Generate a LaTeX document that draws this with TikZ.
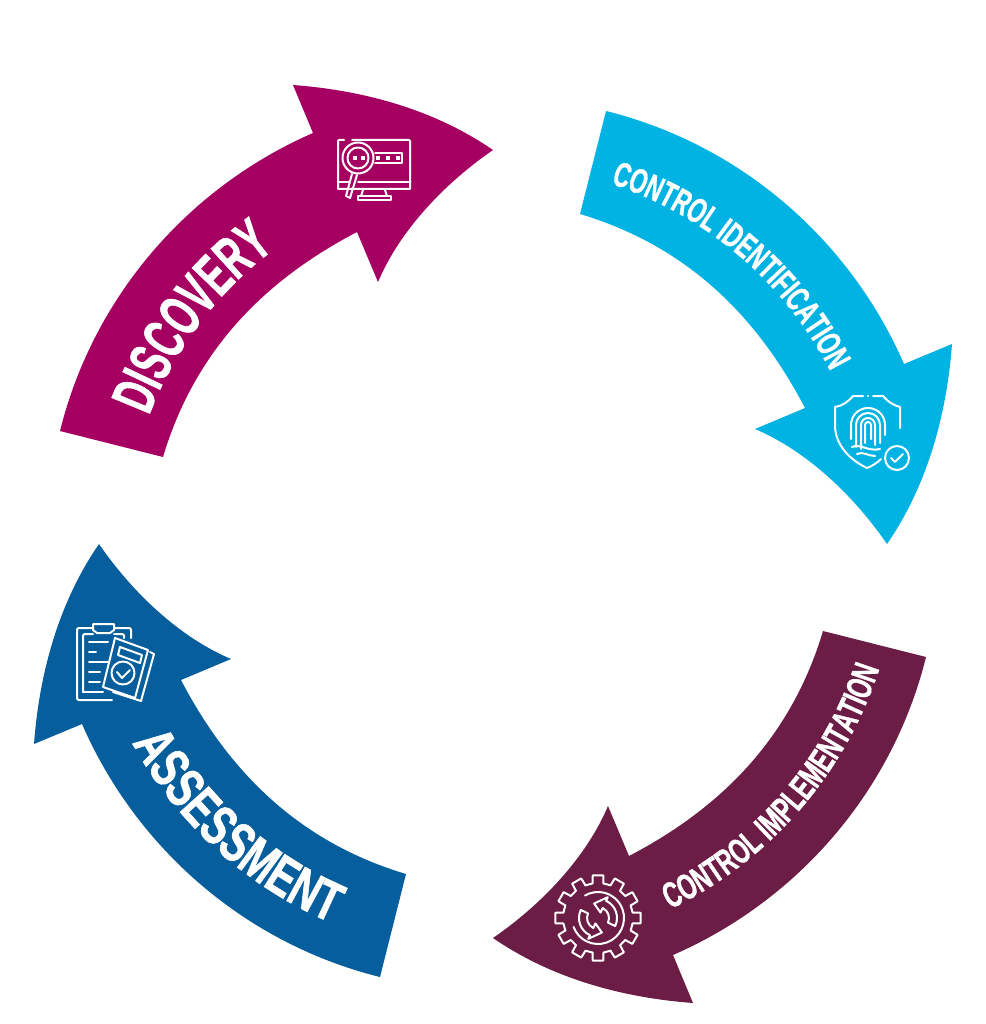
\documentclass[tikz,border=0pt]{standalone}
\usepackage{fontspec}
\usetikzlibrary{decorations.text}
\newfontfamily\widebandfont[FakeStretch=0.71,FakeBold=1]{Liberation Sans}
\newfontfamily\bandfont[FakeStretch=0.64,FakeBold=1]{Liberation Sans}
\newfontfamily\slimbandfont[FakeStretch=0.6,FakeBold=1]{Liberation Sans}
\definecolor{discovery}{RGB}{165,0,97}
\definecolor{identification}{RGB}{0,179,227}
\definecolor{implementation}{RGB}{107,29,69}
\definecolor{assessment}{RGB}{7,94,156}
\tikzset{iconline/.style={white,line width=2pt,line join=round,line cap=round}}
\newcommand{\bandlabel}[4]{\path[decorate,decoration={text along path,text align=center,text color=white,text={|#2\bfseries\fontsize{#3}{#3}\selectfont|#1}}] #4;}

\begin{document}
\begin{tikzpicture}[x=1pt,y=-1pt]
\useasboundingbox (0,0) rectangle (985,1024);
\coordinate (hub) at (493,544);
% the four arrows are one shape turned round the hub
\foreach \turn/\shade in {0/discovery,-90/identification,-180/implementation,-270/assessment}
  \fill[\shade,rotate around={\turn:(hub)}] (60,431) .. controls (93,298) and (187,188) .. (313,133)
    -- (293,85) .. controls (360,90) and (432,108) .. (493,150)
    .. controls (445,183) and (400,230) .. (378,282)
    -- (357,232) .. controls (265,280) and (195,350) .. (163,457) -- cycle;
% labels
\bandlabel{DISCOVERY}{\slimbandfont}{60}{(hub) ++(181:367pt) arc[start angle=181,end angle=105,radius=367pt]}
\bandlabel{CONTROL IDENTIFICATION}{\bandfont}{35}{(hub) ++(85.5:379pt) arc[start angle=85.5,end angle=13.5,radius=379pt]}
\bandlabel{CONTROL IMPLEMENTATION}{\bandfont}{36}{(hub) ++(-79.5:406pt) arc[start angle=-79.5,end angle=-2.5,radius=406pt]}
\bandlabel{ASSESSMENT}{\widebandfont}{56}{(hub) ++(-170:412pt) arc[start angle=-170,end angle=-94.2,radius=412pt]}
% monitor
\draw[iconline] (344,140) -- (339,140) -- (338,141) -- (338,189) -- (410,189) -- (410,141) -- (409,140) -- (352,140);
\draw[iconline] (338,182) -- (349,182);
\draw[iconline] (358,182) -- (410,182);
\draw[iconline] (363,190) -- (361,196) (385,190) -- (387,196);
\draw[iconline] (358,196) rectangle (391,200);
\draw[iconline,fill=discovery] (358,158) circle [radius=15.5pt];
\draw[iconline] (358,158) circle [radius=10.5pt];
\draw[iconline] (375,153) -- (402,153) -- (402,163) -- (375,163);
\draw[iconline] (352,174) -- (346,196) -- (350,198) -- (357,175);
\foreach \px in {355,363,378,388,398}
  \fill[white] (\px-1.8,156.2) rectangle +(3.6,3.6);
% shield
\draw[iconline] (853,396) -- (863,396) (873,396) -- (883,396) .. controls (888,402) and (895,406) .. (900,407) -- (900,428) (835,407) .. controls (842,406) and (848,402) .. (853,396);
\draw[iconline] (835,407) -- (835,425) .. controls (835,445) and (850,460) .. (867,468) .. controls (872,466) and (877,463) .. (881,459);
\fill[white] (868,396) circle [radius=1.2pt];
\foreach \rr/\low in {17/439,12/447,7/449,3/443}
  \draw[iconline] (868-\rr,\low) -- (868-\rr,425) arc[start angle=180,end angle=0,radius=\rr pt] -- (868+\rr,\low-4);
\draw[iconline] (852,447) .. controls (860,443) and (868,452) .. (880,449);
\draw[iconline] (857,454) .. controls (863,451) and (868,456) .. (875,456);
\draw[iconline] (897,458) circle [radius=12pt];
\draw[iconline] (891,458) -- (895,462) -- (903,454);
% gear
\begin{scope}[shift={(598,918)}]
\foreach \a in {0,30,...,330}
  \draw[iconline] (\a-9:35pt) -- (\a-7:43pt) -- (\a+7:43pt) -- (\a+9:35pt) -- (\a+21:35pt);
\draw[iconline] (200:26pt) arc[start angle=200,end angle=480,radius=26pt];
\foreach \a in {0,180}
  \draw[iconline,rotate=\a] (-25:19pt) arc[start angle=-25,end angle=65,radius=19pt] -- (65:23pt) -- (105:15pt) -- (65:6pt) -- (65:11pt) arc[start angle=65,end angle=-25,radius=11pt] -- cycle;
\end{scope}
% clipboard
\draw[iconline,rounded corners=2pt] (131,638) -- (131,628) -- (114,628);
\draw[iconline,rounded corners=2pt] (93,628) -- (77,628) -- (77,700) -- (112,700);
\draw[iconline,rounded corners=2pt] (83,692) -- (83,634) -- (93,634) (114,634) -- (124,634) -- (124,638);
\draw[iconline] (83,692) -- (103,692);
\draw[iconline] (93,624) -- (114,624) -- (114,630) -- (110,633) -- (97,633) -- (93,630) -- cycle;
\foreach \ly/\lx in {642/108,652/96,662/108,672/100,682/100}
  \draw[iconline] (89,\ly) -- (\lx,\ly);
\draw[iconline,fill=assessment] (115,638) -- (148,650) -- (135,698) -- (103,687) -- cycle;
\draw[iconline] (150,652) -- (154,654) -- (141,701) -- (113,692);
\draw[iconline] (120,647) -- (142,655) -- (140,663) -- (118,655) -- cycle;
\draw[iconline] (123,673) circle [radius=11.5pt];
\draw[iconline] (117,672) -- (122,678) -- (130,670);
\end{tikzpicture}
\end{document}
